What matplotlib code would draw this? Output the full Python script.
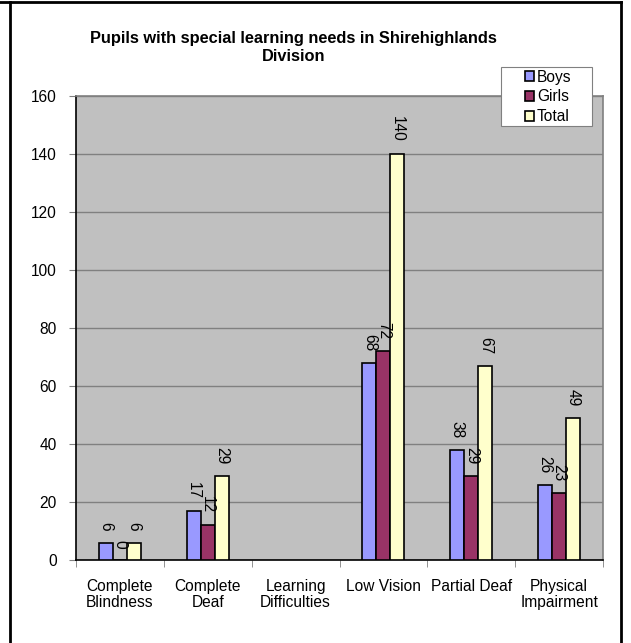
import numpy as np
import matplotlib.pyplot as plt
from matplotlib.lines import Line2D
from matplotlib.patches import Rectangle

plt.rcParams['font.family'] = ['Liberation Sans', 'DejaVu Sans']

categories = ["Complete\nBlindness", "Complete\nDeaf", "Learning\nDifficulties",
              "Low Vision", "Partial Deaf", "Physical\nImpairment"]
boys = [6, 17, np.nan, 68, 38, 26]
girls = [0, 12, np.nan, 72, 29, 23]
total = [6, 29, np.nan, 140, 67, 49]
series = [("Boys", boys, "#9999FF"), ("Girls", girls, "#993366"), ("Total", total, "#FFFFCC")]

fs = 11.2
W, H = 631, 643
fig = plt.figure(figsize=(W / 100, H / 100), dpi=100)
ax = fig.add_axes([76 / W, 1 - 560 / H, 527 / W, 464 / H])
ax.set_facecolor("#C0C0C0")

x = np.arange(len(categories))
w = 0.16
for i, (name, vals, col) in enumerate(series):
    xs = x + (i - 1) * w
    ax.bar(xs, vals, width=w, color=col, edgecolor="black", linewidth=1.2, label=name, zorder=3)
    for xi, v in zip(xs, vals):
        if np.isnan(v):
            continue
        ax.annotate(str(int(v)), (xi, v), xytext=(0, 8.5), textcoords="offset points",
                    rotation=-90, ha="center", va="bottom", fontsize=fs, zorder=4)

ax.set_xlim(-0.5, len(categories) - 0.5)
ax.set_ylim(0, 160)
ax.set_yticks(range(0, 161, 20))
ax.yaxis.grid(True, color="#808080", linewidth=1, zorder=0)
ax.set_xticks(x)
ax.set_xticklabels(categories, fontsize=fs, linespacing=1.05)
ax.tick_params(axis="x", length=0, pad=14)
ax.set_xticks(np.arange(-0.5, len(categories), 1), minor=True)
ax.tick_params(axis="x", which="minor", length=5, color="#808080")
ax.tick_params(axis="y", labelsize=fs, length=5, color="#808080", pad=9)
for s in ["top", "right"]:
    ax.spines[s].set_color("#808080")
    ax.spines[s].set_linewidth(1.2)
for s in ["left", "bottom"]:
    ax.spines[s].set_color("black")
    ax.spines[s].set_linewidth(1.2)

fig.text(293.5 / W, 1 - 47.5 / H, "Pupils with special learning needs in Shirehighlands\nDivision",
         ha="center", va="center", fontsize=11.8, fontweight="bold", linespacing=1.25)

# legend: white box at x 501-592, y 67-126 px, entries centred inside
box = Rectangle((501 / W, 1 - 126 / H), 91 / W, 59 / H, transform=fig.transFigure,
                facecolor="white", edgecolor="#808080", linewidth=0.8, zorder=4.5, clip_on=False)
ax.add_artist(box)
leg = ax.legend(loc="center", bbox_to_anchor=(548 / W, 1 - 97 / H),
                bbox_transform=fig.transFigure, fontsize=fs, frameon=False,
                handlelength=0.6, handleheight=0.6, handletextpad=0.2,
                borderpad=0, labelspacing=0.3, borderaxespad=0)
for h in leg.legend_handles:
    h.set_linewidth(1.2)

# outer chart frame (bottom edge is cut off in the reference)
fig.add_artist(Line2D([0, 621 / W], [1 - 2 / H] * 2, transform=fig.transFigure,
                      color="black", linewidth=2))
fig.add_artist(Line2D([10 / W] * 2, [0, 1 - 2 / H], transform=fig.transFigure,
                      color="black", linewidth=2))
fig.add_artist(Line2D([621 / W] * 2, [0, 1 - 2 / H], transform=fig.transFigure,
                      color="black", linewidth=2))

fig.savefig("out.png", dpi=100)
